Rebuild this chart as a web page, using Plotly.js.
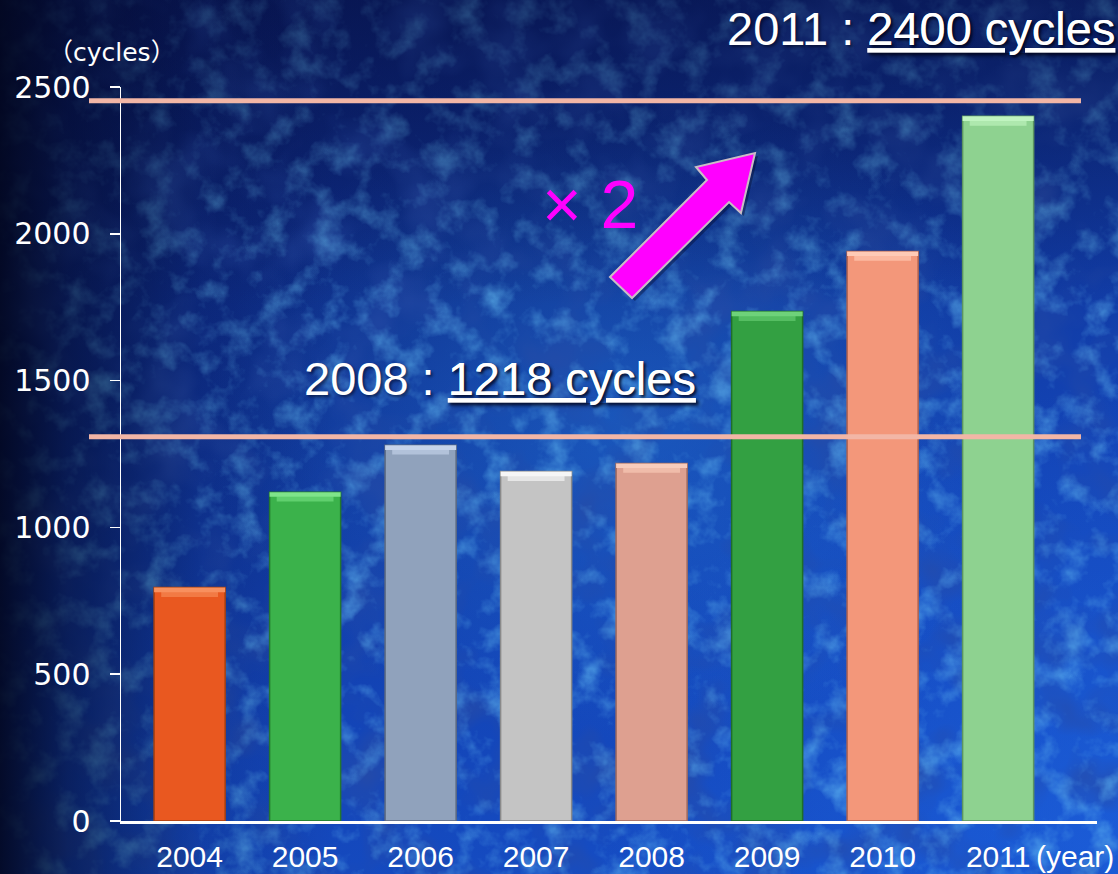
<!DOCTYPE html>
<html>
<head>
<meta charset="utf-8">
<script src="https://cdn.plot.ly/plotly-3.0.1.min.js"></script>
<style>
  html, body { margin: 0; padding: 0; }
  #wrap {
    position: relative; width: 1118px; height: 874px; overflow: hidden;
    background:
      linear-gradient(90deg, rgba(2,6,30,0.92) 0%, rgba(3,9,40,0.6) 6%, rgba(4,12,50,0.15) 18%, rgba(0,0,0,0) 30%),
      linear-gradient(180deg, rgba(6,14,60,0.55) 0%, rgba(6,14,60,0.0) 35%),
      url("data:image/svg+xml;utf8,<svg xmlns='http://www.w3.org/2000/svg' width='1118' height='874'><filter id='n' x='0' y='0' width='100%' height='100%'><feTurbulence type='fractalNoise' baseFrequency='0.035' numOctaves='4' seed='7'/><feColorMatrix values='0 0 0 0 0.13  0 0 0 0 0.52  0 0 0 0 0.90  1.4 0 0 0 -0.66'/></filter><rect width='100%' height='100%' filter='url(%23n)'/></svg>"),
      url("data:image/svg+xml;utf8,<svg xmlns='http://www.w3.org/2000/svg' width='1118' height='874'><filter id='m' x='0' y='0' width='100%' height='100%'><feTurbulence type='fractalNoise' baseFrequency='0.015' numOctaves='3' seed='21'/><feColorMatrix values='0 0 0 0 0.02  0 0 0 0 0.07  0 0 0 0 0.38  1.8 0 0 0 -0.80'/></filter><rect width='100%' height='100%' filter='url(%23m)'/></svg>"),
      radial-gradient(ellipse 420px 320px at 56% 48%, rgba(40,130,225,0.40), rgba(40,130,225,0) 100%),
      radial-gradient(ellipse 520px 440px at 100% 95%, rgba(30,100,225,0.55), rgba(30,100,225,0) 100%),
      linear-gradient(160deg, #0a1c66 0%, #0e2f8c 35%, #1344b6 65%, #1752cc 100%);
  }
  #chart { position: absolute; left: 0; top: 0; width: 1118px; height: 874px; }
</style>
</head>
<body>
<div id="wrap"><div id="chart"></div></div>
<script>
// Annual cycle counts
const years  = ['2004', '2005', '2006', '2007', '2008', '2009', '2010', '2011'];
const cycles = [795, 1120, 1280, 1190, 1218, 1735, 1940, 2400];

// Per-bar fill, edge and top-bevel colours
const barColors   = ['#e95820', '#3bb24b', '#90a2bc', '#c4c4c4', '#dea090', '#33a042', '#f3977a', '#8ed290'];
const edgeColors  = ['#a8400f', '#23782e', '#5d6a80', '#8a8a8a', '#a06a5e', '#1f6e29', '#b0624e', '#5c9460'];
const bevelColors = ['#f8905e', '#7fe48a', '#c6d4ea', '#f6f6f6', '#f8ccbc', '#6ed27a', '#ffcab6', '#c0f4c0'];
const bevelMid    = ['#f27a44', '#60d06e', '#b2c2da', '#e6e6e6', '#f0bcaa', '#55be62', '#fcb8a0', '#aee8ae'];

// Y-axis ticks
const yTicks = [0, 500, 1000, 1500, 2000, 2500];

const BEVEL = 16;      // height of each bevel strip, in cycles
const BAR_W = 0.615;   // bar width, in category units

const barTrace = {
  type: 'bar', x: years, y: cycles, width: BAR_W,
  marker: { color: barColors, line: { color: edgeColors, width: 1.5 } },
  hoverinfo: 'skip'
};
// narrower strip under the top edge gives the bevel its slanted look
const bevelInner = {
  type: 'bar', x: years, base: cycles.map(v => v - 2 * BEVEL), y: cycles.map(() => BEVEL + 2),
  width: BAR_W * 0.8,
  marker: { color: bevelMid, line: { width: 0 } },
  hoverinfo: 'skip'
};
const bevelTop = {
  type: 'bar', x: years, base: cycles.map(v => v - BEVEL), y: cycles.map(() => BEVEL),
  width: BAR_W,
  marker: { color: bevelColors, line: { width: 0 } },
  hoverinfo: 'skip'
};

const white = '#ffffff';
const labelFont = { family: 'Liberation Sans, Arial, sans-serif', size: 47, color: white,
                    shadow: '2px 2px 3px rgba(0,0,20,0.55)' };

// Block arrow (paper coordinates)
const arrowPts = [
  [0.5010, 0.7411], [0.6004, 0.8733], [0.5891, 0.8910], [0.6496, 0.9101],
  [0.6352, 0.8283], [0.6230, 0.8433], [0.5236, 0.7125]
];
const toPath = (pts, dx, dy) => 'M' + pts.map(p => (p[0] + dx).toFixed(4) + ',' + (p[1] + dy).toFixed(4)).join(' L') + ' Z';

const layout = {
  width: 1118, height: 874,
  margin: { l: 121, r: 21, t: 87, b: 53 },
  paper_bgcolor: 'rgba(0,0,0,0)',
  plot_bgcolor: 'rgba(0,0,0,0)',
  barmode: 'overlay',
  showlegend: false,
  xaxis: {
    type: 'category', range: [-0.594, 7.856],
    showline: true, linecolor: white, linewidth: 2.5,
    showgrid: false, zeroline: false, ticks: '',
    ticklabelstandoff: 7,
    tickfont: { family: 'Liberation Sans, Arial, sans-serif', size: 30, color: white },
    fixedrange: true
  },
  yaxis: {
    range: [0, 2500], tickvals: yTicks,
    showline: true, linecolor: white, linewidth: 1.5,
    ticks: 'outside', ticklen: 10, tickcolor: white, tickwidth: 1.5,
    ticklabelstandoff: 13,
    showgrid: false, zeroline: false,
    tickfont: { family: 'DejaVu Sans, Verdana, sans-serif', size: 30, color: white },
    fixedrange: true
  },
  shapes: [
    { type: 'line', layer: 'above', xref: 'paper', yref: 'y', x0: -0.0328, x1: 0.9836, y0: 2453, y1: 2453,
      line: { color: '#f2b6a6', width: 5 } },
    { type: 'line', layer: 'above', xref: 'paper', yref: 'y', x0: -0.0328, x1: 0.9836, y0: 1309, y1: 1309,
      line: { color: '#f2b6a6', width: 5 } },
    { type: 'path', layer: 'above', xref: 'paper', yref: 'paper', path: toPath(arrowPts, 0.003, -0.004),
      fillcolor: 'rgba(0,0,25,0.35)', line: { width: 0 } },
    { type: 'path', layer: 'above', xref: 'paper', yref: 'paper', path: toPath(arrowPts, 0, 0),
      fillcolor: '#ff00ff', line: { color: '#cbbcc6', width: 2 } }
  ],
  annotations: [
    { xref: 'paper', yref: 'paper', x: -0.009, y: 1.047, xanchor: 'center', yanchor: 'middle', showarrow: false,
      text: '（cycles）', font: { family: 'DejaVu Sans, Noto Sans CJK JP, sans-serif', size: 25, color: white } },
    { xref: 'paper', yref: 'paper', x: 1.021, y: 1.080, xanchor: 'right', yanchor: 'middle', showarrow: false,
      text: '2011 : <u>2400 cycles</u>', font: labelFont },
    { xref: 'paper', yref: 'paper', x: 0.3883, y: 0.603, xanchor: 'center', yanchor: 'middle', showarrow: false,
      text: '2008 : <u>1218 cycles</u>', font: labelFont },
    { xref: 'paper', yref: 'paper', x: 0.4805, y: 0.840, xanchor: 'center', yanchor: 'middle', showarrow: false,
      text: '× 2', font: { family: 'Liberation Sans, Arial, sans-serif', size: 68, color: '#ff00ff' } },
    { xref: 'x', yref: 'paper', x: years.length - 1, y: -0.049, xanchor: 'left', yanchor: 'middle', xshift: 36, showarrow: false,
      text: '(year)', font: { family: 'Liberation Sans, Arial, sans-serif', size: 30, color: white } }
  ]
};

Plotly.newPlot('chart', [barTrace, bevelInner, bevelTop], layout, { displayModeBar: false, staticPlot: true });
</script>
</body>
</html>
